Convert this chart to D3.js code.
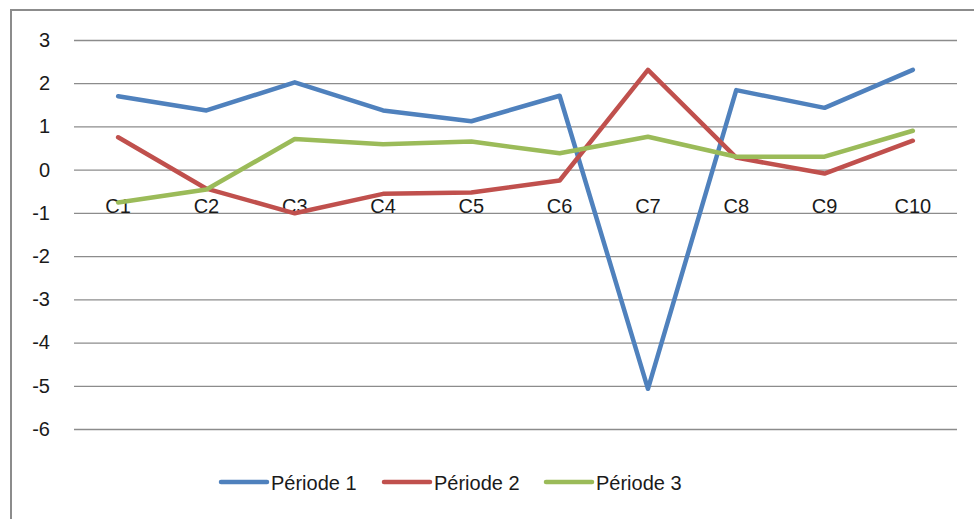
<!DOCTYPE html>
<html>
<head>
<meta charset="utf-8">
<script src="https://cdn.jsdelivr.net/npm/d3@7"></script>
<style>
  html, body { margin: 0; padding: 0; background: #fff; }
  svg { display: block; }
  text { font-family: "Liberation Sans", Arial, sans-serif; fill: #1a1a1a; }
</style>
</head>
<body>
<svg id="chart" width="974" height="519"></svg>
<script>
const categories = ["C1", "C2", "C3", "C4", "C5", "C6", "C7", "C8", "C9", "C10"];
const seriesNames = ["Période 1", "Période 2", "Période 3"];
const periode1 = [1.70, 1.37, 2.02, 1.37, 1.12, 1.71, -5.07, 1.84, 1.43, 2.31];
const periode2 = [0.75, -0.44, -1.01, -0.56, -0.53, -0.25, 2.31, 0.28, -0.09, 0.67];
const periode3 = [-0.76, -0.46, 0.71, 0.59, 0.65, 0.38, 0.76, 0.30, 0.30, 0.90];
const yTicks = [3, 2, 1, 0, -1, -2, -3, -4, -5, -6];
const colors = ["#4F81BD", "#C0504D", "#9BBB59"];

const series = [periode1, periode2, periode3];
const svg = d3.select("#chart");

// frame
svg.append("rect")
  .attr("x", 11).attr("y", 10)
  .attr("width", 1000).attr("height", 600)
  .attr("fill", "none").attr("stroke", "#8c8c8c").attr("stroke-width", 2);

const plotLeft = 74, plotRight = 957;
const x = d3.scaleBand().domain(categories).range([plotLeft, plotRight]);
const y = d3.scaleLinear().domain([-6, 3]).range([429, 40]);

// gridlines
const yAxis = d3.axisLeft(y).tickValues(yTicks).tickSize(-(plotRight - plotLeft)).tickFormat(d => String(d));
const gy = svg.append("g").attr("transform", `translate(${plotLeft},0)`).call(yAxis);
gy.select(".domain").remove();
gy.selectAll(".tick line").attr("stroke", "#8c8c8c").attr("stroke-width", 1.3);
gy.selectAll(".tick text")
  .attr("x", -24)
  .attr("font-size", 20)
  .attr("font-family", "Liberation Sans, Arial, sans-serif")
  .attr("fill", "#1a1a1a");

// category axis (labels next to axis)
const xAxis = d3.axisBottom(x).tickSize(0);
const gx = svg.append("g").attr("transform", `translate(0,${y(0)})`).call(xAxis);
gx.select(".domain").remove();
gx.selectAll(".tick text")
  .attr("y", 0).attr("dy", 43)
  .attr("font-size", 20)
  .attr("font-family", "Liberation Sans, Arial, sans-serif")
  .attr("fill", "#1a1a1a");

// lines
const line = d3.line()
  .x((d, i) => x(categories[i]) + x.bandwidth() / 2)
  .y(d => y(d));

series.forEach((s, k) => {
  svg.append("path")
    .datum(s)
    .attr("d", line)
    .attr("fill", "none")
    .attr("stroke", colors[k])
    .attr("stroke-width", 4.5)
    .attr("stroke-linejoin", "round")
    .attr("stroke-linecap", "round");
});

// legend
const legendX = [221, 384, 546];
const legend = svg.append("g");
seriesNames.forEach((name, k) => {
  legend.append("line")
    .attr("x1", legendX[k]).attr("x2", legendX[k] + 46)
    .attr("y1", 482).attr("y2", 482)
    .attr("stroke", colors[k]).attr("stroke-width", 4.5)
    .attr("stroke-linecap", "round");
  legend.append("text")
    .attr("x", legendX[k] + 50).attr("y", 490)
    .attr("font-size", 20)
    .text(name);
});
</script>
</body>
</html>
